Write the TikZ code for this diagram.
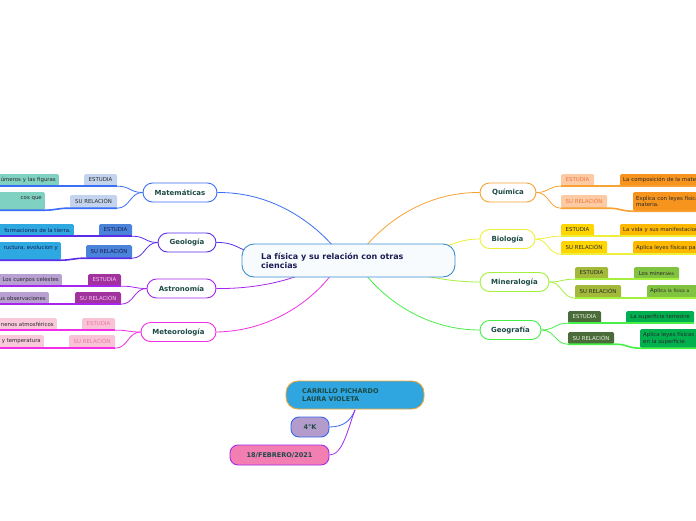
\documentclass[tikz,border=0pt]{standalone}
\usepackage{fontspec}
\setmainfont{DejaVu Sans}
\definecolor{matc}{HTML}{3A6EF5}\definecolor{matE}{HTML}{C4D4EE}\definecolor{matK}{HTML}{7FD1C1}
\definecolor{geoc}{HTML}{5A2EE8}\definecolor{geoE}{HTML}{4A84DA}\definecolor{geoK}{HTML}{2EA8E0}
\definecolor{astc}{HTML}{A626F0}\definecolor{astE}{HTML}{A2329E}\definecolor{astK}{HTML}{B9A0D2}\definecolor{astT}{HTML}{F4C8F0}
\definecolor{metc}{HTML}{F22EE6}\definecolor{metE}{HTML}{F9C2D6}\definecolor{metK}{HTML}{F9C8DA}\definecolor{metT}{HTML}{E8789E}
\definecolor{quic}{HTML}{F7A233}\definecolor{quiE}{HTML}{FCCBA4}\definecolor{quiK}{HTML}{F7941D}\definecolor{quiT}{HTML}{F2733A}
\definecolor{bioc}{HTML}{EFEF3A}\definecolor{bioE}{HTML}{FFD500}\definecolor{bioK}{HTML}{FFB800}
\definecolor{minc}{HTML}{A4F03C}\definecolor{minE}{HTML}{A2B93A}\definecolor{minK}{HTML}{82C241}
\definecolor{gegc}{HTML}{46F046}\definecolor{gegE}{HTML}{4B6B3A}\definecolor{gegK}{HTML}{00B04F}\definecolor{gegT}{HTML}{E8F4E0}
\definecolor{cenB}{HTML}{3B8FD0}\definecolor{cenF}{HTML}{F7FBFE}\definecolor{cenT}{HTML}{1C1C54}
\definecolor{ntext}{HTML}{1D4A45}\definecolor{dtxt}{HTML}{2A2A2A}
\definecolor{carF}{HTML}{2FA6DF}\definecolor{carB}{HTML}{F0A534}
\definecolor{kF}{HTML}{B39CCB}\definecolor{kB}{HTML}{3566F0}
\definecolor{dF}{HTML}{F27EB2}\definecolor{dB}{HTML}{A42AF0}
\begin{document}
\begin{tikzpicture}[x=1pt,y=-1pt,
  pnode/.style={draw=#1, rounded corners=9.5pt, fill=white, line width=0.9pt,
    font=\fontsize{7}{8}\selectfont\bfseries, text=ntext, inner sep=0pt, minimum height=19pt},
  lbl/.style={fill=#1, rounded corners=1.5pt, inner sep=0pt, font=\fontsize{5.4}{6.3}\selectfont, text=dtxt},
  kl/.style={lbl=#1, inner xsep=3pt, anchor=east, align=right, text width=110pt},
  kr/.style={lbl=#1, inner xsep=3pt, anchor=west, align=left, text width=110pt},
  conn/.style={draw=#1, line width=0.8pt},
  ul/.style={draw=#1, line width=1.6pt},
  bnode/.style={draw=#1, line width=0.9pt, rounded corners=8pt, inner sep=0pt,
    font=\fontsize{6.5}{8}\selectfont\bfseries, text=ntext}]
\useasboundingbox (0,0) rectangle (696,520);
\clip (0,0) rectangle (696,520);
\fill[white] (0,0) rectangle (696,520);

% ---------- parent nodes ----------
\node[pnode=matc, minimum width=74pt] (mat) at (180,192.5) {Matemáticas};
\node[pnode=geoc, minimum width=58pt] (geo) at (187,242.5) {Geología};
\node[pnode=astc, minimum width=69pt] (ast) at (181.5,288.5) {Astronomía};
\node[pnode=metc, minimum width=75pt] (met) at (178.5,332) {Meteorología};
\node[pnode=quic, minimum width=56pt] (qui) at (508,192.5) {Química};
\node[pnode=bioc, minimum width=55pt] (bio) at (507.5,239) {Biología};
\node[pnode=minc, minimum width=69pt] (min) at (514.5,282) {Mineralogía};
\node[pnode=gegc, minimum width=61pt] (geg) at (510.5,330) {Geografía};

% ---------- connectors to centre ----------
\coordinate (cMat) at (333,246);
\coordinate (cQui) at (366,246);
\coordinate (cGeo) at (252,252);
\coordinate (cBio) at (445,246);
\coordinate (cAst) at (300,275);
\coordinate (cMet) at (331,275);
\coordinate (cMin) at (418,275);
\coordinate (cGeg) at (366,275);
\draw[conn=matc] (mat.east) .. controls (272,192) and (312,222) .. (cMat);
\draw[conn=quic] (qui.west) .. controls (428,192) and (388,220) .. (cQui);
\draw[conn=geoc] (geo.east) .. controls (236,242) and (240,251) .. (cGeo);
\draw[conn=bioc] (bio.west) .. controls (462,239) and (455,244) .. (cBio);
\draw[conn=astc] (ast.east) .. controls (252,289) and (282,282) .. (cAst);
\draw[conn=metc] (met.east) .. controls (272,331) and (312,300) .. (cMet);
\draw[conn=minc] (min.west) .. controls (452,282) and (432,277) .. (cMin);
\draw[conn=gegc] (geg.west) .. controls (428,330) and (388,302) .. (cGeg);

% ---------- centre node ----------
\node[draw=cenB, fill=cenF, line width=0.9pt, rounded corners=12pt, minimum width=213pt,
  minimum height=33pt, inner sep=0pt] (cen) at (348.5,260.5) {};
\node[anchor=west, align=left, inner sep=0pt, text=cenT,
  font=\fontsize{8}{9.5}\selectfont\bfseries] (title) at (261,261) {La física y su relación con otras\\ciencias};

% ---------- Matemáticas ----------
\node[lbl=matE, minimum width=33pt, minimum height=12pt] (matE) at (100.5,180) {ESTUDIA};
\node[lbl=matE, minimum width=47pt, minimum height=13pt] (matR) at (93.5,201.5) {SU RELACIÓN};
\node[kl=matK, minimum height=12pt] (matK1) at (59,180) {úmeros y las figuras};
\node[kl=matK, minimum height=18pt] (matK2) at (45,201) {cos que\\~};
\draw[conn=matc] (mat.west) .. controls (130,192.5) and (130,186) .. (matE.south east);
\draw[conn=matc] (mat.west) .. controls (130,192.5) and (130,208) .. (matR.south east);
\draw[ul=matc] (matE.south east) -- (matE.south west) -- (matK1.south east) -- (matK1.south west);
\draw[ul=matc] (matR.south east) -- (matR.south west) .. controls (58,208) and (57,210) .. (matK2.south east) -- (matK2.south west);

% ---------- Geología ----------
\node[lbl=geoE, minimum width=33pt, minimum height=12pt, text=cenT] (geoE) at (115.5,230) {ESTUDIA};
\node[lbl=geoE, minimum width=46pt, minimum height=13pt, text=cenT] (geoR) at (109,251.5) {SU RELACIÓN};
\node[kl=geoK, minimum height=12pt, text=cenT] (geoK1) at (74,230) {formaciones de la tierra.};
\node[kl=geoK, minimum height=18pt, text=cenT] (geoK2) at (61,251) {ructura, evolucion y\\~};
\draw[conn=geoc] (geo.west) .. controls (145,242.5) and (145,236) .. (geoE.south east);
\draw[conn=geoc] (geo.west) .. controls (145,242.5) and (145,258) .. (geoR.south east);
\draw[ul=geoc] (geoE.south east) -- (geoE.south west) -- (geoK1.south east) -- (geoK1.south west);
\draw[ul=geoc] (geoR.south east) -- (geoR.south west) .. controls (74,258) and (73,260) .. (geoK2.south east) -- (geoK2.south west);

% ---------- Astronomía ----------
\node[lbl=astE, minimum width=33pt, minimum height=12pt, text=astT] (astE) at (104.5,280) {ESTUDIA};
\node[lbl=astE, minimum width=46pt, minimum height=12pt, text=astT] (astR) at (98,298) {SU RELACIÓN};
\node[kl=astK, minimum height=12pt] (astK1) at (62,280) {Los cuerpos celestes};
\node[kl=astK, minimum height=12pt] (astK2) at (49,298) {us observaciones};
\draw[conn=astc] (ast.west) .. controls (134,288.5) and (134,286) .. (astE.south east);
\draw[conn=astc] (ast.west) .. controls (134,288.5) and (134,304) .. (astR.south east);
\draw[ul=astc] (astE.south east) -- (astE.south west) -- (astK1.south east) -- (astK1.south west);
\draw[ul=astc] (astR.south east) -- (astR.south west) -- (astK2.south east) -- (astK2.south west);

% ---------- Meteorología ----------
\node[lbl=metE, minimum width=33pt, minimum height=12pt, text=metT] (metE) at (98.5,324) {ESTUDIA};
\node[lbl=metE, minimum width=46pt, minimum height=13pt, text=metT] (metR) at (92,341.5) {SU RELACIÓN};
\node[kl=metK, minimum height=12pt] (metK1) at (57,324) {nenos atmosféricos};
\node[kl=metK, minimum height=13pt] (metK2) at (44,341.5) {y temperatura};
\draw[conn=metc] (met.west) .. controls (128,332) and (128,330) .. (metE.south east);
\draw[conn=metc] (met.west) .. controls (128,332) and (128,348) .. (metR.south east);
\draw[ul=metc] (metE.south east) -- (metE.south west) -- (metK1.south east) -- (metK1.south west);
\draw[ul=metc] (metR.south east) -- (metR.south west) -- (metK2.south east) -- (metK2.south west);

% ---------- Química ----------
\node[lbl=quiE, minimum width=33pt, minimum height=12pt, text=quiT] (quiE) at (577.5,180) {ESTUDIA};
\node[lbl=quiE, minimum width=46pt, minimum height=13pt, text=quiT] (quiR) at (584,201.5) {SU RELACIÓN};
\node[kr=quiK, minimum height=12pt] (quiK1) at (620,180) {La composición de la materia};
\node[kr=quiK, minimum height=19pt] (quiK2) at (633,201.5) {Explica con leyes físicas\\materia.};
\draw[conn=quic] (qui.east) .. controls (549,192.5) and (549,186) .. (quiE.south west);
\draw[conn=quic] (qui.east) .. controls (549,192.5) and (549,208) .. (quiR.south west);
\draw[ul=quic] (quiE.south west) -- (quiE.south east) -- (quiK1.south west) -- (quiK1.south east);
\draw[ul=quic] (quiR.south west) -- (quiR.south east) .. controls (620,208) and (620,211) .. (quiK2.south west) -- (quiK2.south east);

% ---------- Biología ----------
\node[lbl=bioE, minimum width=33pt, minimum height=12pt] (bioE) at (577.5,230) {ESTUDIA};
\node[lbl=bioE, minimum width=46pt, minimum height=13pt] (bioR) at (584,247.5) {SU RELACIÓN};
\node[kr=bioK, minimum height=12pt] (bioK1) at (620,230) {La vida y sus manifestaciones};
\node[kr=bioK, minimum height=13pt] (bioK2) at (633,247.5) {Aplica leyes físicas para};
\draw[conn=bioc] (bio.east) .. controls (548,239) and (548,236) .. (bioE.south west);
\draw[conn=bioc] (bio.east) .. controls (548,239) and (548,254) .. (bioR.south west);
\draw[ul=bioc] (bioE.south west) -- (bioE.south east) -- (bioK1.south west) -- (bioK1.south east);
\draw[ul=bioc] (bioR.south west) -- (bioR.south east) -- (bioK2.south west) -- (bioK2.south east);

% ---------- Mineralogía ----------
\node[lbl=minE, minimum width=33pt, minimum height=12pt] (minE) at (591.5,273) {ESTUDIA};
\node[lbl=minE, minimum width=46pt, minimum height=13pt] (minR) at (598,291.5) {SU RELACIÓN};
\node[lbl=minK, minimum width=45pt, minimum height=12pt] (minK1) at (656.5,273) {Los miner{\fontsize{4.4}{5}\selectfont ales}};
\node[kr=minK, minimum height=13pt] (minK2) at (647,291.5) {Aplic{\fontsize{4.4}{5}\selectfont a la física a}};
\draw[conn=minc] (min.east) .. controls (562,282) and (562,279) .. (minE.south west);
\draw[conn=minc] (min.east) .. controls (562,282) and (562,298) .. (minR.south west);
\draw[ul=minc] (minE.south west) -- (minE.south east) -- (minK1.south west) -- (minK1.south east);
\draw[ul=minc] (minR.south west) -- (minR.south east) -- (minK2.south west) -- (minK2.south east);

% ---------- Geografía ----------
\node[lbl=gegE, minimum width=33pt, minimum height=12pt, text=gegT] (gegE) at (584.5,317) {ESTUDIA};
\node[lbl=gegE, minimum width=46pt, minimum height=12pt, text=gegT] (gegR) at (591,338) {SU RELACIÓN};
\node[lbl=gegK, minimum width=68pt, minimum height=12pt] (gegK1) at (660,317) {La superficie terrestre};
\node[kr=gegK, minimum height=19pt] (gegK2) at (640,338.5) {Aplica leyes físicas\\en la superficie.};
\draw[conn=gegc] (geg.east) .. controls (555,330) and (555,323) .. (gegE.south west);
\draw[conn=gegc] (geg.east) .. controls (555,330) and (555,344) .. (gegR.south west);
\draw[ul=gegc] (gegE.south west) -- (gegE.south east) -- (gegK1.south west) -- (gegK1.south east);
\draw[ul=gegc] (gegR.south west) -- (gegR.south east) .. controls (627,344) and (627,348) .. (gegK2.south west) -- (gegK2.south east);

% ---------- bottom group ----------
\coordinate (carA) at (355,410);
\node[bnode=kB, fill=kF, minimum width=38pt, minimum height=20pt] (kk) at (310,427) {4°K};
\node[bnode=dB, fill=dF, minimum width=99pt, minimum height=20pt] (date) at (279.5,455) {18/FEBRERO/2021};
\draw[conn=kB] (kk.east) .. controls (344,427) and (351,420) .. (carA);
\draw[conn=dB] (date.east) .. controls (343,455) and (348,428) .. (carA);
\node[bnode=carB, fill=carF, rounded corners=12pt, minimum width=138pt, minimum height=28pt] (car) at (355,395) {};
\node[anchor=west, align=left, inner sep=0pt, text=ntext,
  font=\fontsize{6.5}{8.5}\selectfont\bfseries] (carT) at (302,395) {CARRILLO PICHARDO\\LAURA VIOLETA};
\end{tikzpicture}
\end{document}
